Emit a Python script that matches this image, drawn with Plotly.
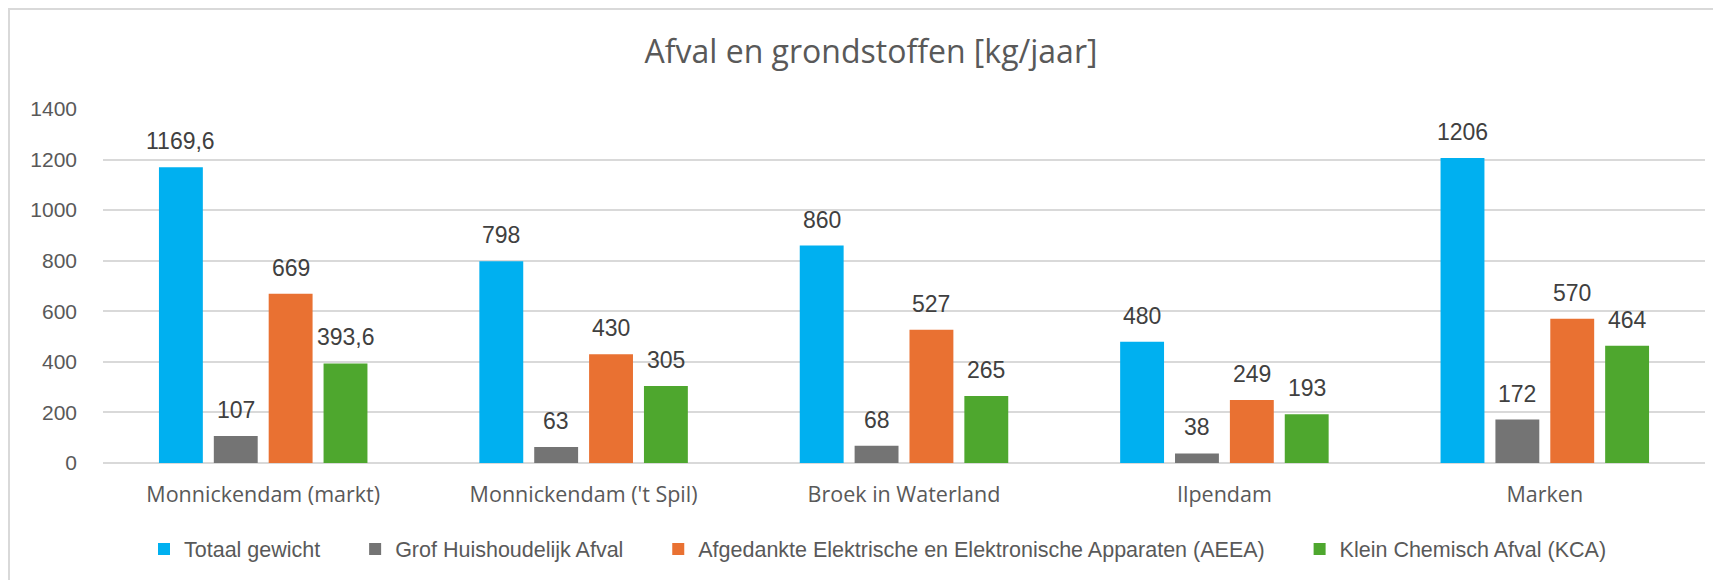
import plotly.graph_objects as go

categories = ["Monnickendam (markt)", "Monnickendam ('t Spil)", "Broek in Waterland", "Ilpendam", "Marken"]
series_names = [
    "Totaal gewicht",
    "Grof Huishoudelijk Afval",
    "Afgedankte Elektrische en Elektronische Apparaten (AEEA)",
    "Klein Chemisch Afval (KCA)",
]
totaal = [1169.6, 798, 860, 480, 1206]
grof = [107, 63, 68, 38, 172]
aeea = [669, 430, 527, 249, 570]
kca = [393.6, 305, 265, 193, 464]
colors = ["#00B0F0", "#747474", "#E97132", "#4EA72E"]
y_ticks = [0, 200, 400, 600, 800, 1000, 1200, 1400]

# the page body has an 8px default margin, so the figure is sized to fit the window
OFF = 8
W, H = 1721 - OFF, 580 - OFF
ML, MR, MT, MB = 95, 16, 101, 117
BARGAP = 0.315
PAD = "\u00a0" * 5  # extra spacing between legend entries

def fmt(v):
    return ("%g" % v).replace(".", ",")

fig = go.Figure()
all_series = [totaal, grof, aeea, kca]
for k, (name, vals, col) in enumerate(zip(series_names, all_series, colors)):
    fig.add_trace(go.Bar(
        x=categories, y=vals, name=name + (PAD if k < len(series_names) - 1 else ""),
        marker_color=col, marker_line_width=0, hoverinfo="x+y",
    ))

slot = (1 - BARGAP) / len(all_series)
for i, vals in enumerate(all_series):
    off = (i - (len(all_series) - 1) / 2) * slot
    for ci, v in enumerate(vals):
        fig.add_annotation(
            x=ci + off, y=v, xref="x", yref="y", text=fmt(v), showarrow=False,
            yanchor="bottom", yshift=11,
            font=dict(family="Liberation Sans, Arial, sans-serif", size=23, color="#404040"),
        )

pw = W - ML - MR
ph = H - MT - MB

def px_to_paper_x(px):
    return (px - ML) / pw

def px_to_paper_y(py):
    return (H - MB - py) / ph

# outer chart border (right and bottom edges fall outside the visible area)
fig.add_shape(type="rect", xref="paper", yref="paper",
              x0=px_to_paper_x(1), x1=px_to_paper_x(W + 10),
              y0=px_to_paper_y(H + 10), y1=px_to_paper_y(1),
              line=dict(color="#D9D9D9", width=2), fillcolor="rgba(0,0,0,0)", layer="below")

fig.update_layout(
    width=W, height=H,
    margin=dict(l=ML, r=MR, t=MT, b=MB, autoexpand=False),
    paper_bgcolor="white", plot_bgcolor="white",
    barmode="group", bargap=BARGAP, bargroupgap=0.2,
    title=dict(text="Afval en grondstoffen [kg/jaar]", x=863 / W, xanchor="center",
               y=1 - 44 / H, yanchor="middle", yref="container", automargin=False,
               font=dict(family="Open Sans, Inter, sans-serif", size=32, color="#595959")),
    showlegend=True,
    legend=dict(orientation="h", x=px_to_paper_x(870), xanchor="center",
                y=px_to_paper_y(541), yanchor="middle", bgcolor="rgba(0,0,0,0)",
                font=dict(family="Liberation Sans, Arial, sans-serif", size=21.5, color="#595959"),
                itemwidth=30, traceorder="normal"),
    xaxis=dict(showgrid=False, ticks="", ticklabelstandoff=16,
               tickfont=dict(family="Open Sans, Inter, sans-serif", size=21.5, color="#595959"),
               showline=False, zeroline=False),
    yaxis=dict(range=[0, 1400], tickvals=y_ticks, showgrid=True, gridcolor="#D9D9D9", gridwidth=1.5,
               zeroline=True, zerolinecolor="#D9D9D9", zerolinewidth=1.5,
               ticks="", ticklabelstandoff=25, showline=False,
               tickfont=dict(family="Liberation Sans, Arial, sans-serif", size=21, color="#595959")),
)

fig.write_html("out.html")
